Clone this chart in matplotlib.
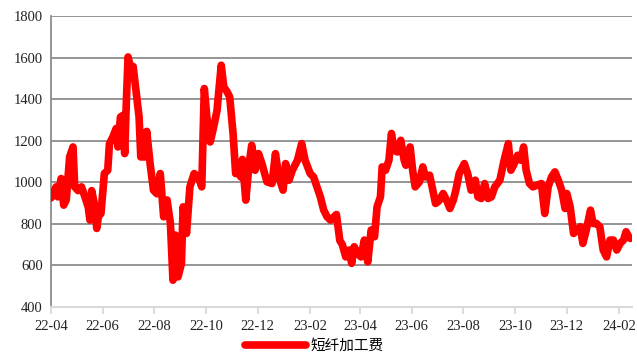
import matplotlib
matplotlib.use("Agg")
import matplotlib.pyplot as plt
from matplotlib.lines import Line2D
import numpy as np
import pandas as pd

# Polyester staple fibre processing spread (短纤加工费), yuan/ton
dates = [
    "2022-04-01", "2022-04-07", "2022-04-09", "2022-04-13", "2022-04-16", "2022-04-19",
    "2022-04-23", "2022-04-27", "2022-04-29", "2022-05-03", "2022-05-07", "2022-05-11",
    "2022-05-15", "2022-05-17", "2022-05-19", "2022-05-23", "2022-05-25", "2022-05-27",
    "2022-05-30", "2022-06-03", "2022-06-07", "2022-06-09", "2022-06-13", "2022-06-17",
    "2022-06-19", "2022-06-22", "2022-06-25", "2022-06-27", "2022-06-29", "2022-07-01",
    "2022-07-04", "2022-07-07", "2022-07-11", "2022-07-14", "2022-07-16", "2022-07-21",
    "2022-07-23", "2022-07-27", "2022-07-31", "2022-08-04", "2022-08-08", "2022-08-12",
    "2022-08-16", "2022-08-20", "2022-08-23", "2022-08-26", "2022-08-29", "2022-09-02",
    "2022-09-04", "2022-09-08", "2022-09-12", "2022-09-17", "2022-09-22", "2022-09-26",
    "2022-09-29", "2022-10-02", "2022-10-06", "2022-10-10", "2022-10-14", "2022-10-19",
    "2022-10-22", "2022-10-26", "2022-10-29", "2022-11-02", "2022-11-05", "2022-11-08",
    "2022-11-11", "2022-11-13", "2022-11-17", "2022-11-21", "2022-11-24", "2022-11-28",
    "2022-12-02", "2022-12-06", "2022-12-12", "2022-12-18", "2022-12-22", "2022-12-26",
    "2022-12-31", "2023-01-03", "2023-01-07", "2023-01-11", "2023-01-17", "2023-01-22",
    "2023-01-26", "2023-02-01", "2023-02-05", "2023-02-09", "2023-02-13", "2023-02-17",
    "2023-02-21", "2023-02-25", "2023-03-04", "2023-03-08", "2023-03-11", "2023-03-15",
    "2023-03-19", "2023-03-22", "2023-03-25", "2023-03-29", "2023-04-02", "2023-04-06",
    "2023-04-10", "2023-04-14", "2023-04-18", "2023-04-21", "2023-04-25", "2023-04-27",
    "2023-05-01", "2023-05-05", "2023-05-08", "2023-05-11", "2023-05-15", "2023-05-19",
    "2023-05-23", "2023-05-25", "2023-05-30", "2023-06-02", "2023-06-05", "2023-06-10",
    "2023-06-14", "2023-06-17", "2023-06-22", "2023-06-25", "2023-06-29", "2023-07-03",
    "2023-07-08", "2023-07-12", "2023-07-16", "2023-07-20", "2023-07-23", "2023-07-27",
    "2023-08-02", "2023-08-06", "2023-08-10", "2023-08-15", "2023-08-18", "2023-08-22",
    "2023-08-26", "2023-08-30", "2023-09-03", "2023-09-07", "2023-09-13", "2023-09-18",
    "2023-09-23", "2023-09-26", "2023-09-30", "2023-10-04", "2023-10-08", "2023-10-11",
    "2023-10-14", "2023-10-18", "2023-10-22", "2023-10-26", "2023-11-01", "2023-11-05",
    "2023-11-09", "2023-11-13", "2023-11-17", "2023-11-21", "2023-11-25", "2023-11-29",
    "2023-12-01", "2023-12-05", "2023-12-09", "2023-12-13", "2023-12-17", "2023-12-20",
    "2023-12-24", "2023-12-29", "2024-01-01", "2024-01-05", "2024-01-09", "2024-01-13",
    "2024-01-17", "2024-01-21", "2024-01-25", "2024-01-29", "2024-02-02", "2024-02-06",
    "2024-02-09", "2024-02-12", "2024-02-14",
]
values = [
    925, 978, 930, 1018, 890, 915,
    1122, 1170, 978, 960, 978, 930,
    880, 818, 960, 880, 778, 835,
    850, 1042, 1058, 1186, 1218, 1259,
    1170, 1314, 1322, 1138, 1391, 1603,
    1549, 1557, 1418, 1314, 1122, 1122,
    1245, 1090, 962, 945, 1042, 834,
    915, 802, 529, 746, 545, 610,
    882, 754, 978, 1042, 1026, 978,
    1451, 1314, 1194, 1265, 1345, 1563,
    1459, 1435, 1410, 1234, 1042, 1050,
    1026, 1110, 914, 1090, 1178, 1058,
    1138, 1090, 1002, 994, 1138, 1026,
    962, 1090, 1010, 1058, 1106, 1186,
    1106, 1042, 1026, 978, 930, 866,
    834, 818, 845, 720, 700, 641,
    674, 610, 690, 658, 641, 722,
    617, 770, 738, 882, 930, 1074,
    1058, 1106, 1235, 1154, 1146, 1202,
    1106, 1082, 1170, 1058, 978, 1002,
    1074, 1026, 1034, 978, 898, 910,
    946, 914, 874, 914, 962, 1042,
    1090, 1042, 962, 1010, 930, 922,
    994, 922, 930, 978, 1010, 1106,
    1186, 1058, 1090, 1130, 1106, 1170,
    1058, 994, 978, 985, 994, 850,
    978, 1026, 1050, 1010, 962, 874,
    946, 882, 754, 770, 786, 706,
    770, 866, 802, 802, 786, 674,
    641, 722, 722, 674, 706, 722,
    762, 738, 730,
]
tick_labels = ["22-04", "22-06", "22-08", "22-10", "22-12", "23-02",
               "23-04", "23-06", "23-08", "23-10", "23-12", "24-02"]
series_name = "短纤加工费"

x = pd.to_datetime(dates)
tick_pos = pd.to_datetime(["20" + t + "-01" for t in tick_labels])

plt.rcParams["font.family"] = ["Liberation Serif", "DejaVu Serif"]

fig = plt.figure(figsize=(6.37, 3.54), dpi=100)
ax = fig.add_axes([51 / 637, 1 - 307 / 354, 581 / 637, 291 / 354])

ax.plot(x, values, color="#ff0000", lw=5.5,
        solid_joinstyle="round", solid_capstyle="round", zorder=3)

ax.set_ylim(400, 1800)
ax.set_yticks(np.arange(400, 1801, 200))
ax.set_xlim(pd.Timestamp("2022-04-01"), pd.Timestamp("2024-02-16"))
ax.set_xticks(tick_pos)
ax.set_xticklabels(tick_labels)

ax.yaxis.grid(True, color="#8c8c8c", lw=1.3)
ax.set_axisbelow(True)

for s in ("top", "right"):
    ax.spines[s].set_visible(False)
ax.spines["left"].set_color("#8c8c8c")
ax.spines["left"].set_linewidth(1.3)
ax.spines["bottom"].set_color("#d9d9d9")
ax.spines["bottom"].set_linewidth(1.5)

ax.tick_params(axis="y", length=0, pad=6, labelsize=10.5, labelcolor="#222222")
ax.tick_params(axis="x", length=5, width=1.3, color="#d9d9d9", direction="out",
               pad=4, labelsize=10.5, labelcolor="#222222")

handle = Line2D([], [], color="#ff0000", lw=5.5, solid_capstyle="round")
fig.legend([handle], [series_name], loc="center",
           bbox_to_anchor=(314 / 637, 1 - 346 / 354), frameon=False,
           handlelength=4.2, handletextpad=0.3, borderpad=0.2,
           prop={"family": ["Noto Sans CJK SC", "DejaVu Sans"], "size": 10.5})

fig.savefig("out.png", dpi=100)
